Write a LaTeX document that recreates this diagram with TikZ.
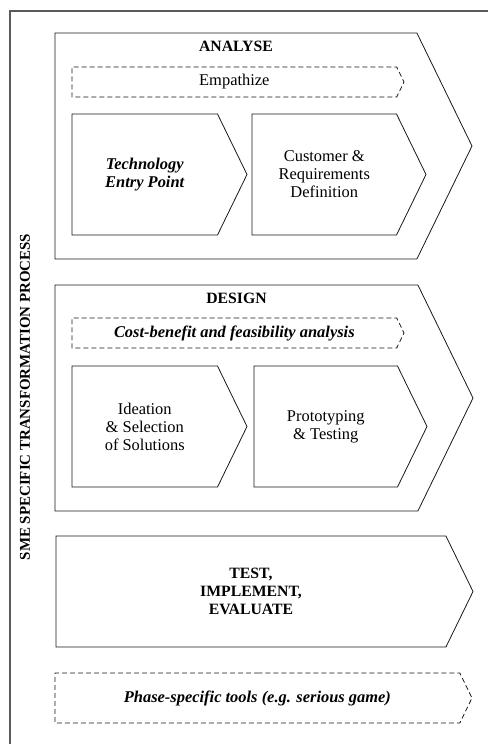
\documentclass[tikz,border=0pt]{standalone}
\usepackage{fontspec}
\setmainfont{Liberation Serif}
\usetikzlibrary{positioning,shapes.symbols}
\definecolor{Ink}{RGB}{25,25,25}
\definecolor{Frame}{RGB}{90,90,90}
\newcommand{\txt}{\fontsize{16.5}{18}\selectfont}
\newcommand{\hd}{\fontsize{15.8}{18}\selectfont}

\begin{document}
\begin{tikzpicture}[x=1bp,y=-1bp,node distance=6bp,
 ch/.style={signal,signal to=east,signal pointer angle=128,draw=Ink,line width=.8bp,fill=white,inner sep=0pt,outer sep=0pt,anchor=north west,align=center,font=\txt},
 ds/.style={ch,dash pattern=on 5bp off 3bp},
 bi/.style={font=\txt\bfseries\itshape},
 lab/.style={font=\hd\bfseries,align=center}]
\useasboundingbox (0,0) rectangle (488,744);
\draw[Frame,line width=1.2bp] (10,744) -- (10,11) -- (488,11);
\node[rotate=90,font=\fontsize{15}{16}\selectfont\bfseries] (sme) at (25,397) {SME SPECIFIC TRANSFORMATION PROCESS};
% analyse
\node[ch,minimum width=417bp,minimum height=226bp] (an) at (55,33) {};
\node[lab,below=5bp of an.north] (anl) {ANALYSE};
\node[ds,minimum width=332bp,minimum height=30bp] (emp) at (72,67) {Empathize};
\node[ch,bi,minimum width=175bp,minimum height=121bp] (tec) at (72,114) {Technology\\Entry Point};
\node[ch,minimum width=174bp,minimum height=121bp] (cus) at (252,114) {Customer \&\\Requirements\\Definition};
% design
\node[ch,minimum width=418bp,minimum height=226bp] (de) at (55,285) {};
\node[lab,below=5bp of de.north] (del) {DESIGN};
\node[ds,bi,minimum width=332bp,minimum height=30bp] (cba) at (72,318) {Cost-benefit and feasibility analysis};
\node[ch,minimum width=175bp,minimum height=121bp] (ide) at (72,366) {Ideation\\\& Selection\\of Solutions};
\node[ch,minimum width=173bp,minimum height=121bp] (pro) at (254,366) {Prototyping\\\& Testing};
% test, implement, evaluate
\node[ch,lab,minimum width=417bp,minimum height=111bp] (tie) at (56,536) {TEST,\\IMPLEMENT,\\EVALUATE};
% tools
\node[ds,bi,minimum width=417bp,minimum height=50bp] (pst) at (55,673) {Phase-specific tools (e.g. serious game)};
\end{tikzpicture}
\end{document}
